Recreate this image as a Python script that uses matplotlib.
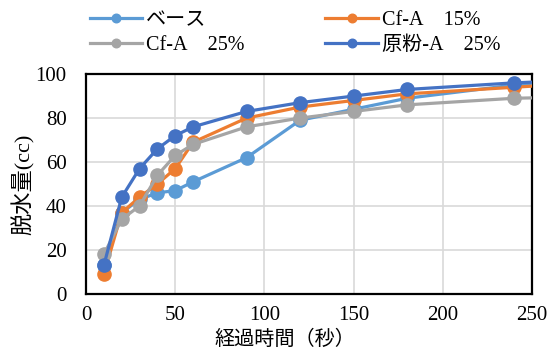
import matplotlib
matplotlib.use("Agg")
import matplotlib.pyplot as plt

plt.rcParams['font.family'] = ['Liberation Serif', 'Noto Sans CJK JP', 'DejaVu Sans']

# elapsed time (s); the 300 s point lies past the axis limit and only shows as the line running off the edge
time_s = [10, 20, 30, 40, 50, 60, 90, 120, 150, 180, 240, 300]

base = [13, 37, 43, 46, 47, 51, 62, 79, 84, 89, 95, 97]
cf_a_15 = [9, 37, 44, 50, 57, 69, 80, 85, 88, 91, 94, 97]
cf_a_25 = [18, 34, 40, 54, 63, 68, 76, 80, 83, 86, 89, 90]
raw_a_25 = [13, 44, 57, 66, 72, 76, 83, 87, 90, 93, 96, 98]

labels = ['ベース', 'Cf-A\u300015%', 'Cf-A\u300025%', '原粉-A\u300025%']
colors = ['#5B9BD5', '#ED7D31', '#A5A5A5', '#4472C4']
series = [base, cf_a_15, cf_a_25, raw_a_25]

fig = plt.figure(figsize=(5.55, 3.51), dpi=100)
ax = fig.add_axes([0.155, 0.1624, 0.8036, 0.6266])

lines = []
for i, (vals, lab, col) in enumerate(zip(series, labels, colors)):
    ln, = ax.plot(time_s, vals, color=col, lw=2.3, marker='o', ms=9.5,
                  label=lab, zorder=3 + i)
    lines.append(ln)

ax.set_xlim(0, 250)
ax.set_ylim(0, 100)
ax.set_xticks(range(0, 251, 50))
ax.set_yticks(range(0, 101, 20))
ax.grid(True, color='#d9d9d9', lw=1.2)
ax.set_axisbelow(True)
for sp in ax.spines.values():
    sp.set_linewidth(1.6)
    sp.set_color('black')
ax.tick_params(length=0, labelsize=15)
ax.tick_params(axis='x', pad=9)
ax.tick_params(axis='y', pad=14)

ax.set_xlabel('経過時間（秒）', fontsize=14.5)
ax.xaxis.set_label_coords(0.446, -0.165)
ax.set_ylabel('脱水量(cc)', fontsize=16)
ax.yaxis.set_label_coords(-0.115, 0.5)

# legend filled column-wise, so reorder to get two rows of two
order = [0, 2, 1, 3]
fig.legend([lines[i] for i in order], [labels[i] for i in order],
           ncol=2, loc='upper left', bbox_to_anchor=(0.162, 0.968),
           frameon=False, fontsize=14.5, handlelength=2.6, markerscale=0.65,
           columnspacing=4.0, labelspacing=0.3, handletextpad=0.2,
           borderaxespad=0, borderpad=0)

fig.savefig('out.png', dpi=100)
